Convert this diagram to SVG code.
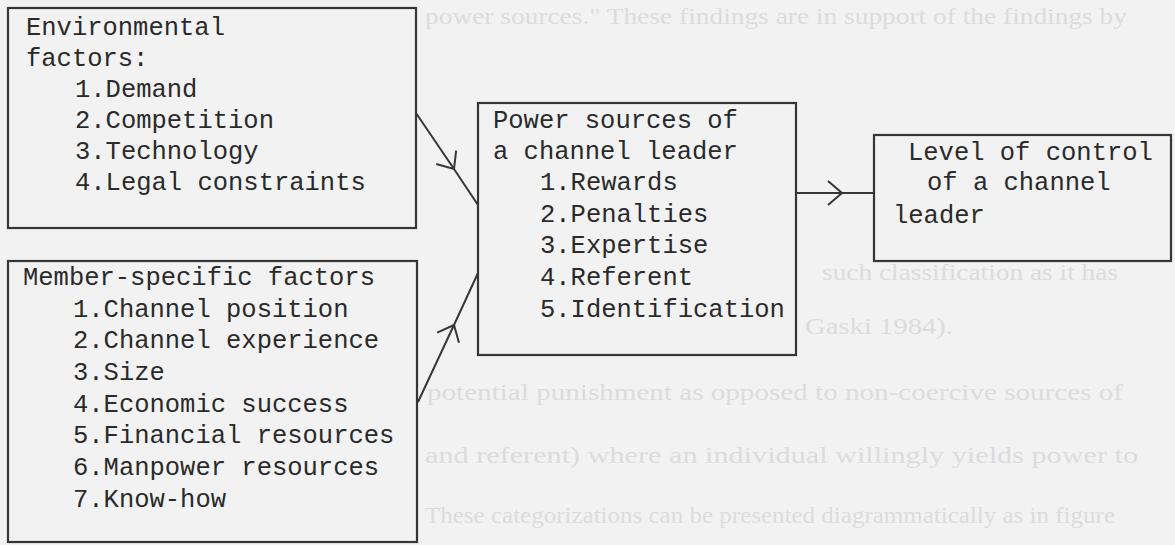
<svg xmlns="http://www.w3.org/2000/svg" width="1175" height="545" viewBox="0 0 1175 545">
  <style>
    .bg { fill: #f2f2f2; }
    .bleed { font-family: "Liberation Serif", "Times New Roman", serif; font-size: 24px; fill: #dcdcdc; }
    .box { fill: none; stroke: #363636; stroke-width: 2.2; }
    .t { font-family: "Liberation Mono", "Courier New", monospace; font-size: 25.5px; fill: #2a2a2a; }
    .conn { fill: none; stroke: #363636; stroke-width: 2; }
  </style>
  <defs>
    <marker id="vhead" viewBox="-16 -14 18 28" markerWidth="18" markerHeight="28" refX="0" refY="0" orient="auto" markerUnits="userSpaceOnUse">
      <path d="M-14,-12 L0,0 L-14,12" fill="none" stroke="#363636" stroke-width="2"/>
    </marker>
  </defs>

  <rect class="bg" x="0" y="0" width="1175" height="545"/>

  <g id="background-bleed">
    <text class="bleed" x="425" y="24" textLength="702" lengthAdjust="spacingAndGlyphs">power sources." These findings are in support of the findings by</text>
    <text class="bleed" x="822" y="280" textLength="296" lengthAdjust="spacingAndGlyphs">such classification as it has</text>
    <text class="bleed" x="805" y="334" textLength="148" lengthAdjust="spacingAndGlyphs">Gaski 1984).</text>
    <text class="bleed" x="427" y="400" textLength="696" lengthAdjust="spacingAndGlyphs">potential punishment as opposed to non-coercive sources of</text>
    <text class="bleed" x="425" y="463" textLength="713" lengthAdjust="spacingAndGlyphs">and referent) where an individual willingly yields power to</text>
    <text class="bleed" x="425" y="523" textLength="690" lengthAdjust="spacingAndGlyphs">These categorizations can be presented diagrammatically as in figure</text>
  </g>

  <g id="connectors">
    <path class="conn" d="M416,113 L454,169 L478,205" marker-mid="url(#vhead)"/>
    <path class="conn" d="M418,402 L454,325 L478,273" marker-mid="url(#vhead)"/>
    <path class="conn" d="M796,193 L842,193 L874,193" marker-mid="url(#vhead)"/>
  </g>

  <g id="environmental-factors">
    <rect class="box" x="8" y="8" width="408" height="220"/>
    <text class="t" x="26" y="35">Environmental</text>
    <text class="t" x="26" y="66">factors:</text>
    <text class="t" x="75" y="97">1.Demand</text>
    <text class="t" x="75" y="128">2.Competition</text>
    <text class="t" x="75" y="159">3.Technology</text>
    <text class="t" x="75" y="190">4.Legal constraints</text>
  </g>

  <g id="member-specific-factors">
    <rect class="box" x="8" y="261" width="409" height="281"/>
    <text class="t" x="23" y="285">Member-specific factors</text>
    <text class="t" x="73" y="317">1.Channel position</text>
    <text class="t" x="73" y="348">2.Channel experience</text>
    <text class="t" x="73" y="380">3.Size</text>
    <text class="t" x="73" y="412">4.Economic success</text>
    <text class="t" x="73" y="443">5.Financial resources</text>
    <text class="t" x="73" y="475">6.Manpower resources</text>
    <text class="t" x="73" y="507">7.Know-how</text>
  </g>

  <g id="power-sources">
    <rect class="box" x="478" y="103" width="318" height="252"/>
    <text class="t" x="493" y="128">Power sources of</text>
    <text class="t" x="493" y="159">a channel leader</text>
    <text class="t" x="540" y="190">1.Rewards</text>
    <text class="t" x="540" y="222">2.Penalties</text>
    <text class="t" x="540" y="253">3.Expertise</text>
    <text class="t" x="540" y="285">4.Referent</text>
    <text class="t" x="540" y="317">5.Identification</text>
  </g>

  <g id="level-of-control">
    <rect class="box" x="874" y="135" width="297" height="126"/>
    <text class="t" x="908" y="160">Level of control</text>
    <text class="t" x="927" y="190">of a channel</text>
    <text class="t" x="893" y="223">leader</text>
  </g>
</svg>
